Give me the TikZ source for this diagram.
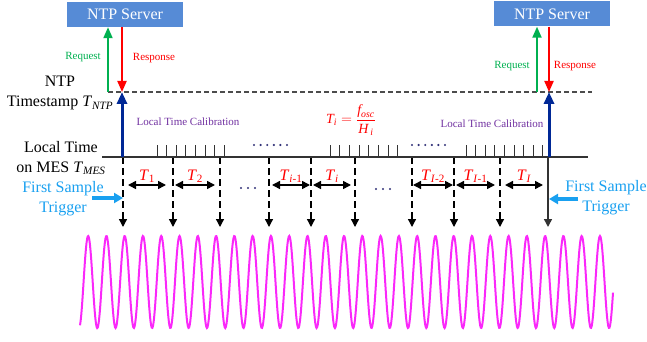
\documentclass[tikz,border=0pt]{standalone}
\usepackage{amsmath}
\usepackage{fontspec}
\setmainfont{Liberation Serif}
\usepackage{tikz}
\usetikzlibrary{arrows.meta, positioning, calc}
\definecolor{srvblue}{RGB}{86,139,214}
\definecolor{ntpblue}{RGB}{0,40,150}
\definecolor{trigcyan}{RGB}{25,160,240}
\definecolor{calpurple}{RGB}{112,48,160}
\definecolor{reqgreen}{RGB}{0,176,80}
\definecolor{wavemag}{RGB}{250,40,250}
\definecolor{dotnavy}{RGB}{50,50,120}
\newcommand{\tv}[2]{\textit{#1}\textsubscript{#2}}
\tikzset{
  srvbox/.style={rectangle,fill=srvblue,text=white,minimum width=116pt,minimum height=25pt,font=\fontsize{16}{18}\selectfont},
  lbl/.style={align=center,font=\fontsize{16}{20}\selectfont},
  small/.style={font=\fontsize{11}{13}\selectfont},
  arr/.style={-{Triangle[length=11pt,width=9pt]},line width=2pt},
  ntparr/.style={-{Triangle[length=12pt,width=10pt]},line width=3pt,ntpblue},
  trigarr/.style={-{Triangle[length=9pt,width=10pt]},line width=3.5pt,trigcyan},
  ntpline/.style={draw=gray!60!black,line width=2.2pt,dash pattern=on 5pt off 3pt},
  timeline/.style={draw=gray!40!black,line width=2pt},
  tickmark/.style={draw=gray!40!black,line width=1pt},
  vline/.style={-{Triangle[length=8pt,width=8pt]},line width=1.3pt,dash pattern=on 7pt off 4pt},
  sline/.style={-{Triangle[length=8pt,width=8pt]},line width=1.5pt,draw=gray!40!black},
  dbl/.style={{Triangle[length=8pt,width=8pt]}-{Triangle[length=8pt,width=8pt]},line width=1.5pt},
  tlbl/.style={text=red,font=\fontsize{16}{18}\selectfont,anchor=base,yshift=5pt},
  wave/.style={draw=wavemag,line width=2pt}
}
\begin{document}
\begin{tikzpicture}[x=1pt,y=-1pt]
  \useasboundingbox (0,0) rectangle (647,342);

  \node[srvbox] (srvL) at (125,14.5) {NTP Server};
  \node[srvbox] (srvR) at (552,14) {NTP Server};

  \coordinate (reqL) at (108,92);
  \coordinate (tsL) at (122,92);
  \coordinate (reqR) at (537,92);
  \coordinate (tsR) at (549,92);
  \coordinate (tsEnd) at (592,92);
  \coordinate (lt0) at (102,157);
  \coordinate (lt1) at (588,157);

  \draw[ntpline] (reqL) -- (tsEnd);
  \draw[arr,reqgreen] (reqL) -- (reqL |- srvL.south);
  \draw[arr,red] (tsL |- srvL.south) -- (tsL);
  \draw[arr,reqgreen] (reqR) -- (reqR |- srvR.south);
  \draw[arr,red] (tsR |- srvR.south) -- (tsR);
  \node[small,text=reqgreen] (rqL) at (83,57) {Request};
  \node[small,text=red] (rsL) at (154,58) {Response};
  \node[small,text=reqgreen] (rqR) at (512,66) {Request};
  \node[small,text=red] (rsR) at (575,66) {Response};

  \node[lbl] (ntpts) at (60,93) {NTP\\Timestamp \tv{T}{\textit{NTP}}};
  \node[lbl] (mes) at (61,158) {Local Time\\on MES \tv{T}{\textit{MES}}};
  \node[lbl,text=trigcyan] (trgL) at (63,199) {First Sample\\Trigger};
  \node[lbl,text=trigcyan] (trgR) at (606,198) {First Sample\\Trigger};

  \foreach \x [count=\i] in {123,173,220,269,311,355,412,454,500,548}{
    \coordinate (v\i) at (\x,157);
    \coordinate (h\i) at (\x,185);
    \coordinate (w\i) at (\x,227);
  }
  \foreach \i in {1,...,9}
    \draw[vline] (v\i) -- (w\i);
  \draw[sline] (v10) -- (w10);

  \draw[timeline] (lt0) -- (lt1);
  \foreach \k in {0,...,7}
    \draw[tickmark] (157+9.6*\k,145) -- (157+9.6*\k,157);
  \foreach \k in {0,...,7}
    \draw[tickmark] (330+9.7*\k,145) -- (330+9.7*\k,157);
  \foreach \k in {0,...,8}
    \draw[tickmark] (466+9.6*\k,145) -- (466+9.6*\k,157);
  \foreach \k in {0,...,5}{
    \fill[dotnavy] (254+6.6*\k,145) circle (1.2pt);
    \fill[dotnavy] (412+6.6*\k,145) circle (1.2pt);
  }
  \foreach \k in {0,...,2}{
    \fill[dotnavy] (241+7*\k,188) circle (1.1pt);
    \fill[dotnavy] (376+7*\k,189) circle (1.1pt);
  }

  \draw[ntparr] (tsL |- lt0) -- (tsL);
  \draw[ntparr] (tsR |- lt0) -- (tsR);

  \node[small,text=calpurple] (calL) at (188,122) {Local Time Calibration};
  \node[small,text=calpurple] (calR) at (492,124) {Local Time Calibration};
  \node[text=red,font=\fontsize{14}{16}\selectfont] (form) at (351,120)
    {$\textit{T}_{\textit{i}} = \dfrac{\textit{f}_{\textit{osc}}}{\textit{H}_{\,\textit{i}}}$};

  \coordinate (tgL) at (92,198);
  \coordinate (tgR) at (578,199);
  \draw[trigarr] (tgL) -- (tgL -| v1);
  \draw[trigarr] (tgR) -- ([xshift=1pt]tgR -| v10);

  \draw[dbl] ([xshift=5pt]h1) -- ([xshift=-7pt]h2) node[tlbl,midway] {\tv{T}{1}};
  \draw[dbl] ([xshift=2pt]h2) -- ([xshift=-5pt]h3) node[tlbl,midway] {\tv{T}{2}};
  \draw[dbl] ([xshift=3pt]h4) -- ([xshift=-1pt]h5) node[tlbl,midway] {\tv{T}{\textit{i}-1}};
  \draw[dbl] ([xshift=2pt]h5) -- ([xshift=-4pt]h6) node[tlbl,midway] {\tv{T}{\textit{i}}};
  \draw[dbl] ([xshift=1pt]h7) -- ([xshift=-1pt]h8) node[tlbl,midway] {\tv{T}{\textit{I}-2}};
  \draw[dbl] ([xshift=2pt]h8) -- ([xshift=-5pt]h9) node[tlbl,midway] {\tv{T}{\textit{I}-1}};
  \draw[dbl] ([xshift=5pt]h9) -- ([xshift=-5pt]h10) node[tlbl,midway] {\tv{T}{\textit{I}}};

  \draw[wave] plot[domain=80:613,samples=900] (\x,{282+46*cos(19.694*(\x-79))});
\end{tikzpicture}
\end{document}
